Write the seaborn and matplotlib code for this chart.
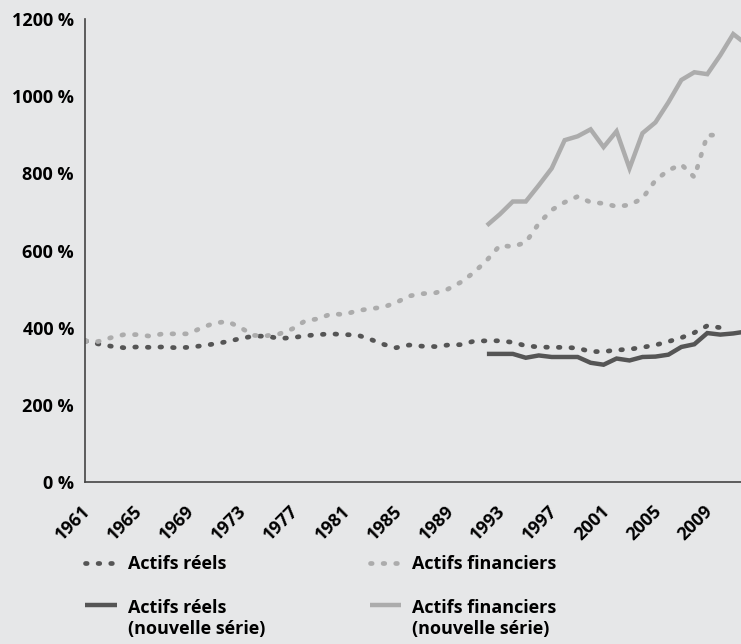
import numpy as np
import matplotlib
matplotlib.use("Agg")
import matplotlib.pyplot as plt
import matplotlib.transforms as mtransforms
import seaborn as sns
from matplotlib.legend_handler import HandlerLine2D

# Données (en % du revenu national)
annees = list(range(1961, 2011))
actifs_reels = [366, 358, 352, 348, 350, 349, 350, 348, 349, 353,
                358, 364, 372, 378, 378, 372, 374, 379, 382, 384,
                382, 381, 370, 357, 348, 355, 352, 351, 355, 356,
                365, 366, 366, 362, 353, 350, 349, 349, 347, 338,
                338, 342, 344, 349, 355, 364, 374, 387, 405, 400]
actifs_financiers = [366, 364, 374, 382, 382, 378, 384, 384, 384, 400,
                     412, 416, 400, 380, 379, 384, 397, 418, 423, 436,
                     434, 444, 449, 453, 465, 482, 488, 490, 500, 518,
                     543, 575, 613, 610, 621, 670, 705, 725, 740, 725,
                     722, 714, 718, 735, 782, 808, 823, 790, 899, 899]

annees_ns = list(range(1992, 2013))
actifs_reels_ns = [332, 332, 332, 322, 328, 324, 324, 324, 309, 304,
                   320, 315, 324, 325, 330, 350, 357, 386, 382, 385, 390]
actifs_financiers_ns = [665, 694, 727, 727, 769, 813, 886, 896, 914, 868,
                        909, 813, 904, 932, 984, 1042, 1062, 1057, 1106, 1161, 1135]

ticks_x = list(range(1961, 2010, 4))
ticks_y = [0, 200, 400, 600, 800, 1000, 1200]
labels_y = [f"{v} %" for v in ticks_y]

legende = ["Actifs réels", "Actifs réels\n(nouvelle série)",
           "Actifs financiers", "Actifs financiers\n(nouvelle série)"]

fond = "#e6e7e8"
fonce = "#555555"
clair = "#acacac"

plt.rcParams["font.family"] = ["Open Sans", "DejaVu Sans"]
plt.rcParams["font.weight"] = "bold"
plt.rcParams["font.size"] = 13

fig = plt.figure(figsize=(7.41, 6.44), dpi=100, facecolor=fond)
ax = fig.add_axes([85 / 741, 1 - 482 / 644, 656 / 741, 463 / 644])
ax.set_facecolor(fond)

pointille = dict(linestyle=(0, (0.35, 2.32)), dash_capstyle="round", linewidth=3.4)
plein = dict(linewidth=3.2, solid_capstyle="butt", solid_joinstyle="miter")

sns.lineplot(x=annees, y=actifs_reels, color=fonce, ax=ax, legend=False, **pointille)
sns.lineplot(x=annees_ns, y=actifs_reels_ns, color=fonce, ax=ax, legend=False, **plein)
sns.lineplot(x=annees, y=actifs_financiers, color=clair, ax=ax, legend=False, **pointille)
sns.lineplot(x=annees_ns, y=actifs_financiers_ns, color=clair, ax=ax, legend=False, **plein)

ax.set_xlim(1961, 2011.6)
ax.set_ylim(0, 1200)
ax.set_yticks(ticks_y)
ax.set_yticklabels(labels_y, fontweight="bold")
ax.set_xticks(ticks_x)
ax.set_xticklabels([str(a) for a in ticks_x], rotation=45, ha="right", va="center",
                   rotation_mode="anchor", fontweight="bold")
ax.tick_params(length=0, colors="black")
ax.tick_params(axis="y", pad=8)
ax.tick_params(axis="x", pad=19)
decale = mtransforms.ScaledTranslation(3 / 100, 0, fig.dpi_scale_trans)
for t in ax.get_xticklabels():
    t.set_transform(t.get_transform() + decale)
ax.set_xlabel("")
ax.set_ylabel("")
ax.grid(False)
for s in ["top", "right"]:
    ax.spines[s].set_visible(False)
for s in ["left", "bottom"]:
    ax.spines[s].set_color("#444444")
    ax.spines[s].set_linewidth(1.2)


# poignée alignée sur la première ligne du texte
class PoigneeHaut(HandlerLine2D):
    def __init__(self, decalage=0, **kw):
        super().__init__(**kw)
        self.decalage = decalage

    def create_artists(self, legend, orig_handle, xdescent, ydescent, width, height, fontsize, trans):
        arts = super().create_artists(legend, orig_handle, xdescent, ydescent, width, height, fontsize, trans)
        for a in arts:
            a.set_ydata(np.asarray(a.get_ydata(), dtype=float) + self.decalage)
        return arts


lignes = ax.get_lines()
poignees = [lignes[0], lignes[1], lignes[2], lignes[3]]
leg = fig.legend(poignees, legende, ncol=2, loc="upper left",
                 bbox_to_anchor=(69 / 741, 1 - 539 / 644), frameon=False,
                 handlelength=1.75, handletextpad=0.6, columnspacing=5.8,
                 labelspacing=1.45, prop={"weight": "bold", "size": 13},
                 handler_map={lignes[1]: PoigneeHaut(10.5), lignes[3]: PoigneeHaut(10.5)})

fig.savefig("out.png", dpi=100, facecolor=fond)
